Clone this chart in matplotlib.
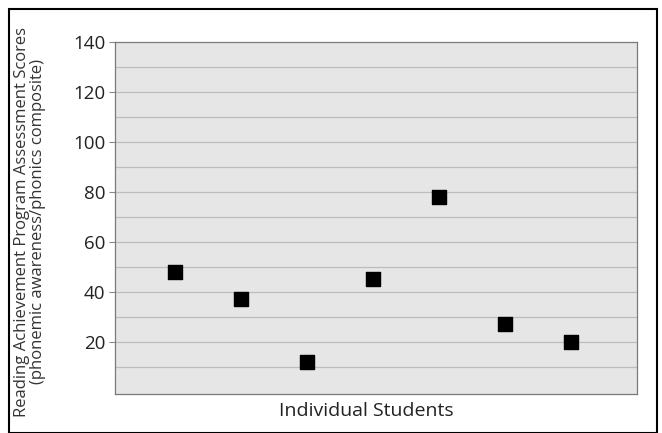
import matplotlib
matplotlib.use("Agg")
import matplotlib.pyplot as plt
from matplotlib.patches import Rectangle

students = [1, 2, 3, 4, 5, 6, 7]
scores = [48, 37, 12, 45, 78, 27, 20]
yticks = [20, 40, 60, 80, 100, 120, 140]
grid_levels = [10, 20, 30, 40, 50, 60, 70, 80, 90, 100, 110, 120, 130]

plt.rcParams['font.family'] = ['Open Sans', 'DejaVu Sans']

fig = plt.figure(figsize=(6.62, 4.33), dpi=100)
ax = fig.add_axes([115/662, 1 - 394/433, (637-115)/662, (394-42)/433])
ax.set_facecolor('#e6e6e6')

for g in grid_levels:
    ax.axhline(g, color='#bdbdbd', lw=0.9, zorder=1)

ax.scatter(students, scores, marker='s', s=95, color='black', zorder=3)

ax.set_xlim(0.09, 8.0)
ax.set_ylim(-1, 140)
ax.set_yticks(yticks)
ax.set_yticklabels([str(t) for t in yticks], fontsize=13.5, color='#222222')
ax.set_xticks([])
ax.tick_params(axis='y', length=4, width=0.8, color='#888888', pad=3)
for s in ax.spines.values():
    s.set_color('#7a7a7a')
    s.set_linewidth(0.9)

fig.text(366/662, 1 - 411/433, 'Individual Students', fontsize=14,
         color='#222222', ha='center', va='center')
fig.text(30/662, 1 - 222/433,
         'Reading Achievement Program Assessment Scores\n(phonemic awareness/phonics composite)',
         rotation=90, ha='center', va='center', fontsize=12, color='#333333',
         linespacing=1.0)

fig.patches.append(Rectangle((9/662, 0.0), (657-9)/662, 1 - 9/433,
                             transform=fig.transFigure, fill=False,
                             edgecolor='black', lw=1.5))

fig.savefig('out.png', dpi=100)
